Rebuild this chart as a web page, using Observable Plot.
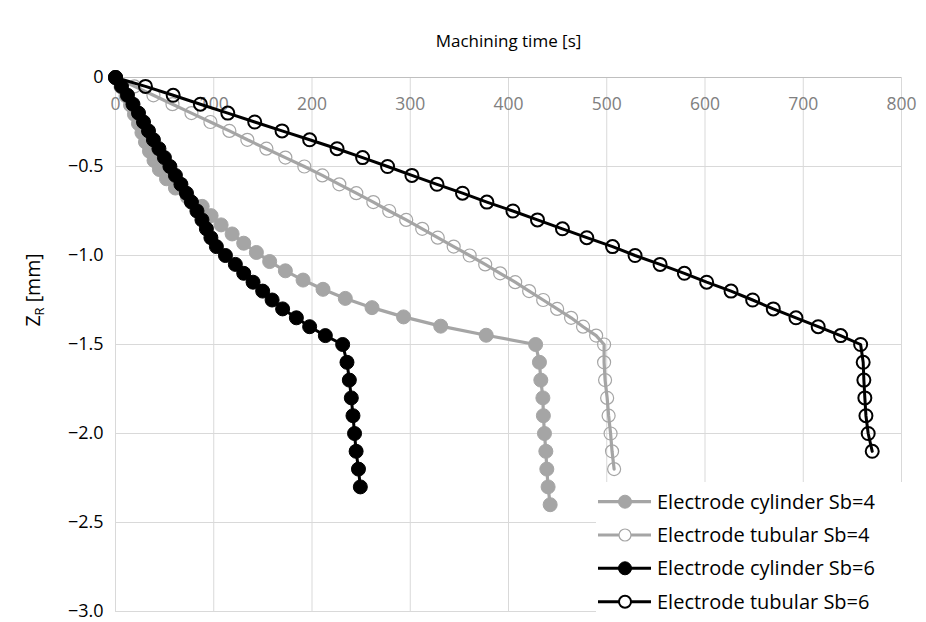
<!DOCTYPE html>
<html><head><meta charset="utf-8">
<script src="https://cdn.jsdelivr.net/npm/d3@7"></script>
<script src="https://cdn.jsdelivr.net/npm/@observablehq/plot@0.6"></script>
<style>body{margin:0;background:#fff;} #chart{width:926px;height:622px;}</style>
</head><body><div id="chart"></div>
<script>
// ---- data ----
const xTicks = [0, 100, 200, 300, 400, 500, 600, 700, 800];
const yTicks = [0, -0.5, -1.0, -1.5, -2.0, -2.5, -3.0];
const yTickLabels = ["0", "−0.5", "−1.0", "−1.5", "−2.0", "−2.5", "−3.0"];
const seriesNames = ["Electrode cylinder Sb=4", "Electrode tubular Sb=4", "Electrode cylinder Sb=6", "Electrode tubular Sb=6"];

const timeCylSb4 = [0, 5.6, 10.7, 15.3, 19.3, 23.4, 26.9, 30.5, 34.6, 39.2, 44.7, 51.9, 61.0, 73.2, 88.2, 97.3, 107.5, 118.7, 130.5, 143.4, 156.9, 172.9, 190.9, 211.2, 233.9, 261.1, 293.2, 331.0, 377.3, 427.6, 431.5, 432.9, 435.0, 435.5, 436.6, 438.0, 439.0, 440.3, 442.4];
const depthCylSb4 = [0, -0.052, -0.103, -0.155, -0.207, -0.259, -0.310, -0.362, -0.414, -0.466, -0.517, -0.569, -0.621, -0.672, -0.724, -0.776, -0.828, -0.879, -0.931, -0.983, -1.034, -1.086, -1.138, -1.190, -1.241, -1.293, -1.345, -1.397, -1.448, -1.500, -1.6, -1.7, -1.8, -1.9, -2.0, -2.1, -2.2, -2.3, -2.4];

const timeTubSb4 = [0, 19.3, 38.6, 58.0, 77.3, 96.6, 115.9, 134.2, 153.6, 172.9, 192.2, 210.5, 227.8, 245.1, 262.4, 278.6, 295.9, 312.2, 328.0, 344.2, 360.5, 376.3, 391.5, 406.8, 421.0, 435.3, 449.5, 463.7, 475.9, 489.2, 497.3, 497.3, 498.3, 500.4, 501.9, 503.9, 505.4, 507.5];
const depthTubSb4 = [0, -0.05, -0.10, -0.15, -0.20, -0.25, -0.30, -0.35, -0.40, -0.45, -0.50, -0.55, -0.60, -0.65, -0.70, -0.75, -0.80, -0.85, -0.90, -0.95, -1.00, -1.05, -1.10, -1.15, -1.20, -1.25, -1.30, -1.35, -1.40, -1.45, -1.50, -1.6, -1.7, -1.8, -1.9, -2.0, -2.1, -2.2];

const timeCylSb6 = [0, 6.1, 12.2, 17.8, 23.4, 28.5, 33.6, 38.6, 44.2, 49.8, 55.4, 61.0, 66.6, 72.2, 77.3, 82.9, 88.0, 92.5, 97.1, 102.7, 111.9, 122.0, 130.5, 140.0, 149.8, 159.4, 170.1, 184.1, 197.6, 213.6, 231.2, 235.6, 238.0, 240.0, 241.7, 243.3, 244.9, 247.3, 249.2];
const depthCylSb6 = [0, -0.05, -0.10, -0.15, -0.20, -0.25, -0.30, -0.35, -0.40, -0.45, -0.50, -0.55, -0.60, -0.65, -0.70, -0.75, -0.80, -0.85, -0.90, -0.95, -1.00, -1.05, -1.10, -1.15, -1.20, -1.25, -1.30, -1.35, -1.40, -1.45, -1.50, -1.6, -1.7, -1.8, -1.9, -2.0, -2.1, -2.2, -2.3];

const timeTubSb6 = [0, 30.5, 58.7, 86.4, 114.3, 141.7, 169.5, 197.6, 225.5, 251.5, 276.9, 301.7, 327.2, 353.2, 378.0, 404.5, 429.5, 454.9, 479.7, 505.9, 528.8, 554.3, 579.0, 601.7, 626.5, 648.5, 669.5, 692.6, 715.2, 738.0, 758.4, 761.0, 761.7, 762.7, 763.8, 766.1, 770.2];
const depthTubSb6 = [0, -0.05, -0.10, -0.15, -0.20, -0.25, -0.30, -0.35, -0.40, -0.45, -0.50, -0.55, -0.60, -0.65, -0.70, -0.75, -0.80, -0.85, -0.90, -0.95, -1.00, -1.05, -1.10, -1.15, -1.20, -1.25, -1.30, -1.35, -1.40, -1.45, -1.50, -1.6, -1.7, -1.8, -1.9, -2.0, -2.1];

// ---- styles ----
const GRAY = "#a5a5a5";
const styles = [
  {color: GRAY, fill: GRAY, r: 7, sw: 1, lw: 3.2},
  {color: GRAY, fill: "none", r: 6.5, sw: 1.2, lw: 3.2},
  {color: "#000", fill: "#000", r: 7, sw: 1, lw: 3},
  {color: "#000", fill: "none", r: 6.5, sw: 2, lw: 3}
];
const seriesData = [
  [timeCylSb4, depthCylSb4],
  [timeTubSb4, depthTubSb4],
  [timeCylSb6, depthCylSb6],
  [timeTubSb6, depthTubSb6]
].map(([t, z], i) => t.map((v, j) => ({series: seriesNames[i], time: v, depth: z[j]})));

const FONT = "Open Sans";
const seriesMarks = seriesData.flatMap((d, i) => [
  Plot.line(d, {x: "time", y: "depth", stroke: styles[i].color, strokeWidth: styles[i].lw}),
  Plot.dot(d, {x: "time", y: "depth", r: styles[i].r, fill: styles[i].fill, stroke: styles[i].color, strokeWidth: styles[i].sw})
]);

const plot = Plot.plot({
  width: 926, height: 622,
  marginLeft: 115, marginRight: 25, marginTop: 77, marginBottom: 11,
  x: {domain: [0, 800], axis: null},
  y: {domain: [-3, 0], axis: null},
  style: {fontFamily: FONT, background: "#fff", overflow: "visible"},
  marks: [
    Plot.gridX(xTicks, {stroke: "#d9d9d9", strokeOpacity: 1, strokeWidth: 1}),
    Plot.gridY(yTicks, {stroke: "#d9d9d9", strokeOpacity: 1, strokeWidth: 1}),
    Plot.ruleY([0], {stroke: "#bfbfbf", strokeWidth: 1}),
    Plot.text(xTicks, {x: d => d, y: 0, dy: 27, text: d => String(d), fill: "#808080", fontSize: 17.5}),
    Plot.text(yTicks, {x: 0, y: d => d, dx: -12, text: (d, i) => yTickLabels[i], textAnchor: "end", fill: "#000", fontSize: 18}),
    Plot.text(["Machining time [s]"], {frameAnchor: "top", dy: -43, fill: "#000", fontSize: 17}),
    ...seriesMarks
  ]
});
document.getElementById("chart").appendChild(plot);

// ---- y axis title with subscript ----
const svg = d3.select(plot);
const yt = svg.append("text")
  .attr("transform", "translate(40,290) rotate(-90)")
  .attr("text-anchor", "middle")
  .attr("font-family", FONT).attr("font-size", 19.5).attr("fill", "#000");
yt.append("tspan").text("Z");
yt.append("tspan").text("R").attr("font-size", 13).attr("dy", 4);
yt.append("tspan").text(" [mm]").attr("dy", -4);

// ---- legend ----
const lg = svg.append("g").attr("text-anchor", "start");
lg.append("rect").attr("x", 596).attr("y", 482).attr("width", 330).attr("height", 140).attr("fill", "#fff");
const legY = [501.7, 535, 568.3, 601.7];
seriesNames.forEach((name, i) => {
  const s = styles[i];
  lg.append("line").attr("x1", 598).attr("x2", 651).attr("y1", legY[i]).attr("y2", legY[i])
    .attr("stroke", s.color).attr("stroke-width", s.lw);
  lg.append("circle").attr("cx", 625).attr("cy", legY[i]).attr("r", s.r - 0.5)
    .attr("fill", s.fill === "none" ? "#fff" : s.fill).attr("stroke", s.color).attr("stroke-width", s.sw);
  lg.append("text").attr("x", 657).attr("y", legY[i]).attr("dy", "0.35em")
    .attr("text-anchor", "start")
    .attr("font-family", FONT).attr("font-size", 20).attr("fill", "#000").text(name);
});
</script></body></html>
